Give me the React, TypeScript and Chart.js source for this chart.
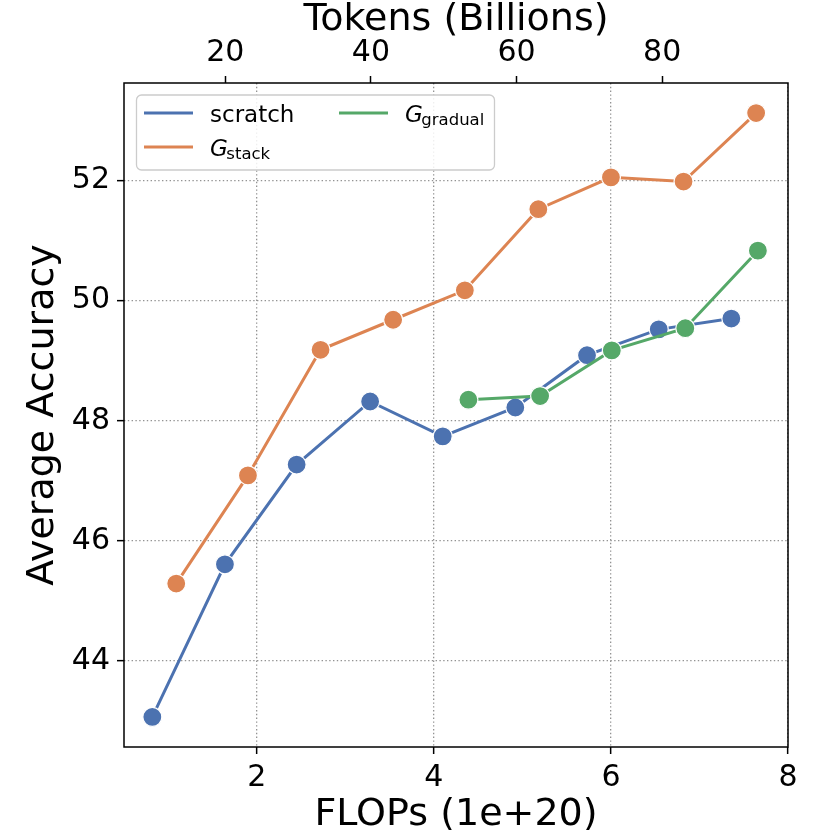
import React, { useEffect, useRef } from "react";
import { Chart, registerables } from "chart.js";

Chart.register(...registerables);

// ---- data ----
const flopsScratch = [0.82, 1.64, 2.45, 3.28, 4.1, 4.92, 5.73, 6.54, 7.36];
const accScratch = [43.07, 45.61, 47.27, 48.32, 47.74, 48.22, 49.09, 49.52, 49.7];
const flopsStack = [1.09, 1.9, 2.72, 3.54, 4.35, 5.18, 6.0, 6.82, 7.64];
const accStack = [45.29, 47.09, 49.18, 49.68, 50.17, 51.52, 52.05, 51.98, 53.12];
const flopsGradual = [4.39, 5.2, 6.01, 6.84, 7.66];
const accGradual = [48.35, 48.41, 49.17, 49.54, 50.83];

const seriesLabels = ["scratch", "G_stack", "G_gradual"];
const seriesColors = ["#4C72B0", "#DD8452", "#55A868"];

const flopsTicks = [2, 4, 6, 8];
const tokenTicks = [20, 40, 60, 80];
const accTicks = [44, 46, 48, 50, 52];
const TOKENS_PER_FLOP = 12.16;
const X_MIN = 0.5;
const X_MAX = 8.0;
const Y_MIN = 42.57;
const Y_MAX = 53.62;

const FONT = "'DejaVu Sans', 'Liberation Sans', sans-serif";

function toPoints(xs: number[], ys: number[]) {
  return xs.map((x, i) => ({ x, y: ys[i] }));
}

const framePlugin = {
  id: "frame",
  afterDatasetsDraw(chart: any) {
    const { ctx, chartArea } = chart;
    ctx.save();
    ctx.strokeStyle = "#000";
    ctx.lineWidth = 1.5;
    ctx.strokeRect(chartArea.left, chartArea.top, chartArea.right - chartArea.left, chartArea.bottom - chartArea.top);
    ctx.restore();
  },
};

function drawLabel(ctx: CanvasRenderingContext2D, label: string, x: number, y: number) {
  const parts = label.split("_");
  ctx.fillStyle = "#000";
  ctx.textBaseline = "alphabetic";
  ctx.textAlign = "left";
  if (parts.length === 1) {
    ctx.font = `23px ${FONT}`;
    ctx.fillText(label, x, y);
  } else {
    ctx.font = `italic 23px ${FONT}`;
    ctx.fillText(parts[0], x, y);
    const w = ctx.measureText(parts[0]).width;
    ctx.font = `16.5px ${FONT}`;
    ctx.fillText(parts[1], x + w - 1.5, y + 3);
  }
}

const legendPlugin = {
  id: "customLegend",
  afterDraw(chart: any) {
    const { ctx, chartArea } = chart;
    const bx = chartArea.left + 12;
    const by = chartArea.top + 11.5;
    const bw = 358;
    const bh = 75;
    ctx.save();
    ctx.beginPath();
    ctx.roundRect(bx + 0.5, by + 0.5, bw, bh, 5);
    ctx.fillStyle = "rgba(255,255,255,0.85)";
    ctx.fill();
    ctx.strokeStyle = "#cccccc";
    ctx.lineWidth = 1.3;
    ctx.stroke();

    const items = [
      { col: 0, row: 0 },
      { col: 0, row: 1 },
      { col: 1, row: 0 },
    ];
    items.forEach((it, i) => {
      const lx = bx + 8 + it.col * 195;
      const ly = by + 18.5 + it.row * 34;
      ctx.strokeStyle = seriesColors[i];
      ctx.lineWidth = 3;
      ctx.beginPath();
      ctx.moveTo(lx, ly);
      ctx.lineTo(lx + 49, ly);
      ctx.stroke();
      drawLabel(ctx, seriesLabels[i], lx + 66, ly + 9);
    });
    ctx.restore();
  },
};

export default function App() {
  const ref = useRef<HTMLCanvasElement | null>(null);

  useEffect(() => {
    if (!ref.current) return;
    const ds = (xs: number[], ys: number[], i: number, order: number) => ({
      label: seriesLabels[i],
      data: toPoints(xs, ys),
      borderColor: seriesColors[i],
      backgroundColor: seriesColors[i],
      borderWidth: 3,
      pointRadius: 9.5,
      pointHoverRadius: 9.5,
      pointBackgroundColor: seriesColors[i],
      pointBorderColor: "#ffffff",
      pointBorderWidth: 1.2,
      tension: 0,
      order,
    });

    const tickFont = { family: FONT, size: 30, lineHeight: 1 };
    const titleFont = { family: FONT, size: 38, lineHeight: 0.8 };
    const gridColor = "#939393";

    const chart = new Chart(ref.current, {
      type: "line",
      data: {
        datasets: [
          ds(flopsScratch, accScratch, 0, 2),
          ds(flopsStack, accStack, 1, 1),
          ds(flopsGradual, accGradual, 2, 0),
        ],
      },
      options: {
        animation: false,
        responsive: false,
        devicePixelRatio: 1,
        layout: { padding: { left: 0, right: 42, top: 0, bottom: 0 } },
        plugins: { legend: { display: false }, tooltip: { enabled: false } },
        events: [],
        scales: {
          x: {
            type: "linear",
            position: "bottom",
            min: X_MIN,
            max: X_MAX,
            afterBuildTicks: (s: any) => {
              s.ticks = flopsTicks.map((v) => ({ value: v }));
            },
            afterFit: (s: any) => {
              s.height = 83;
            },
            ticks: { font: tickFont, color: "#000", padding: 9, autoSkip: false, maxRotation: 0 },
            grid: { color: gridColor, lineWidth: 1.3, tickColor: "#000", tickWidth: 1.5, tickLength: 7 },
            border: { display: false, dash: [1.4, 2.4] },
            title: { display: true, text: "FLOPs (1e+20)", font: titleFont, color: "#000", padding: { top: 0, bottom: 0 } },
          },
          x2: {
            type: "linear",
            position: "top",
            min: X_MIN * TOKENS_PER_FLOP,
            max: X_MAX * TOKENS_PER_FLOP,
            afterBuildTicks: (s: any) => {
              s.ticks = tokenTicks.map((v) => ({ value: v }));
            },
            afterFit: (s: any) => {
              s.height = 83;
            },
            ticks: { font: tickFont, color: "#000", padding: 8, autoSkip: false, maxRotation: 0 },
            grid: { drawOnChartArea: false, tickColor: "#000", tickWidth: 1.5, tickLength: 7 },
            border: { display: false },
            title: { display: true, text: "Tokens (Billions)", font: titleFont, color: "#000", padding: { top: 5, bottom: 0 } },
          },
          y: {
            type: "linear",
            position: "left",
            min: Y_MIN,
            max: Y_MAX,
            afterBuildTicks: (s: any) => {
              s.ticks = accTicks.map((v) => ({ value: v }));
            },
            afterFit: (s: any) => {
              s.width = 124;
            },
            ticks: { font: tickFont, color: "#000", padding: 7, autoSkip: false },
            grid: { color: gridColor, lineWidth: 1.3, tickColor: "#000", tickWidth: 1.5, tickLength: 7 },
            border: { display: false, dash: [1.4, 2.4] },
            title: { display: true, text: "Average Accuracy", font: titleFont, color: "#000", padding: { top: 28, bottom: 0 } },
          },
        },
      },
      plugins: [framePlugin, legendPlugin],
    } as any);
    return () => chart.destroy();
  }, []);

  return (
    <div style={{ position: "fixed", left: 0, top: 0, width: 830, height: 830, background: "#fff" }}>
      <canvas ref={ref} width={830} height={830} style={{ display: "block", width: 830, height: 830 }} />
    </div>
  );
}
